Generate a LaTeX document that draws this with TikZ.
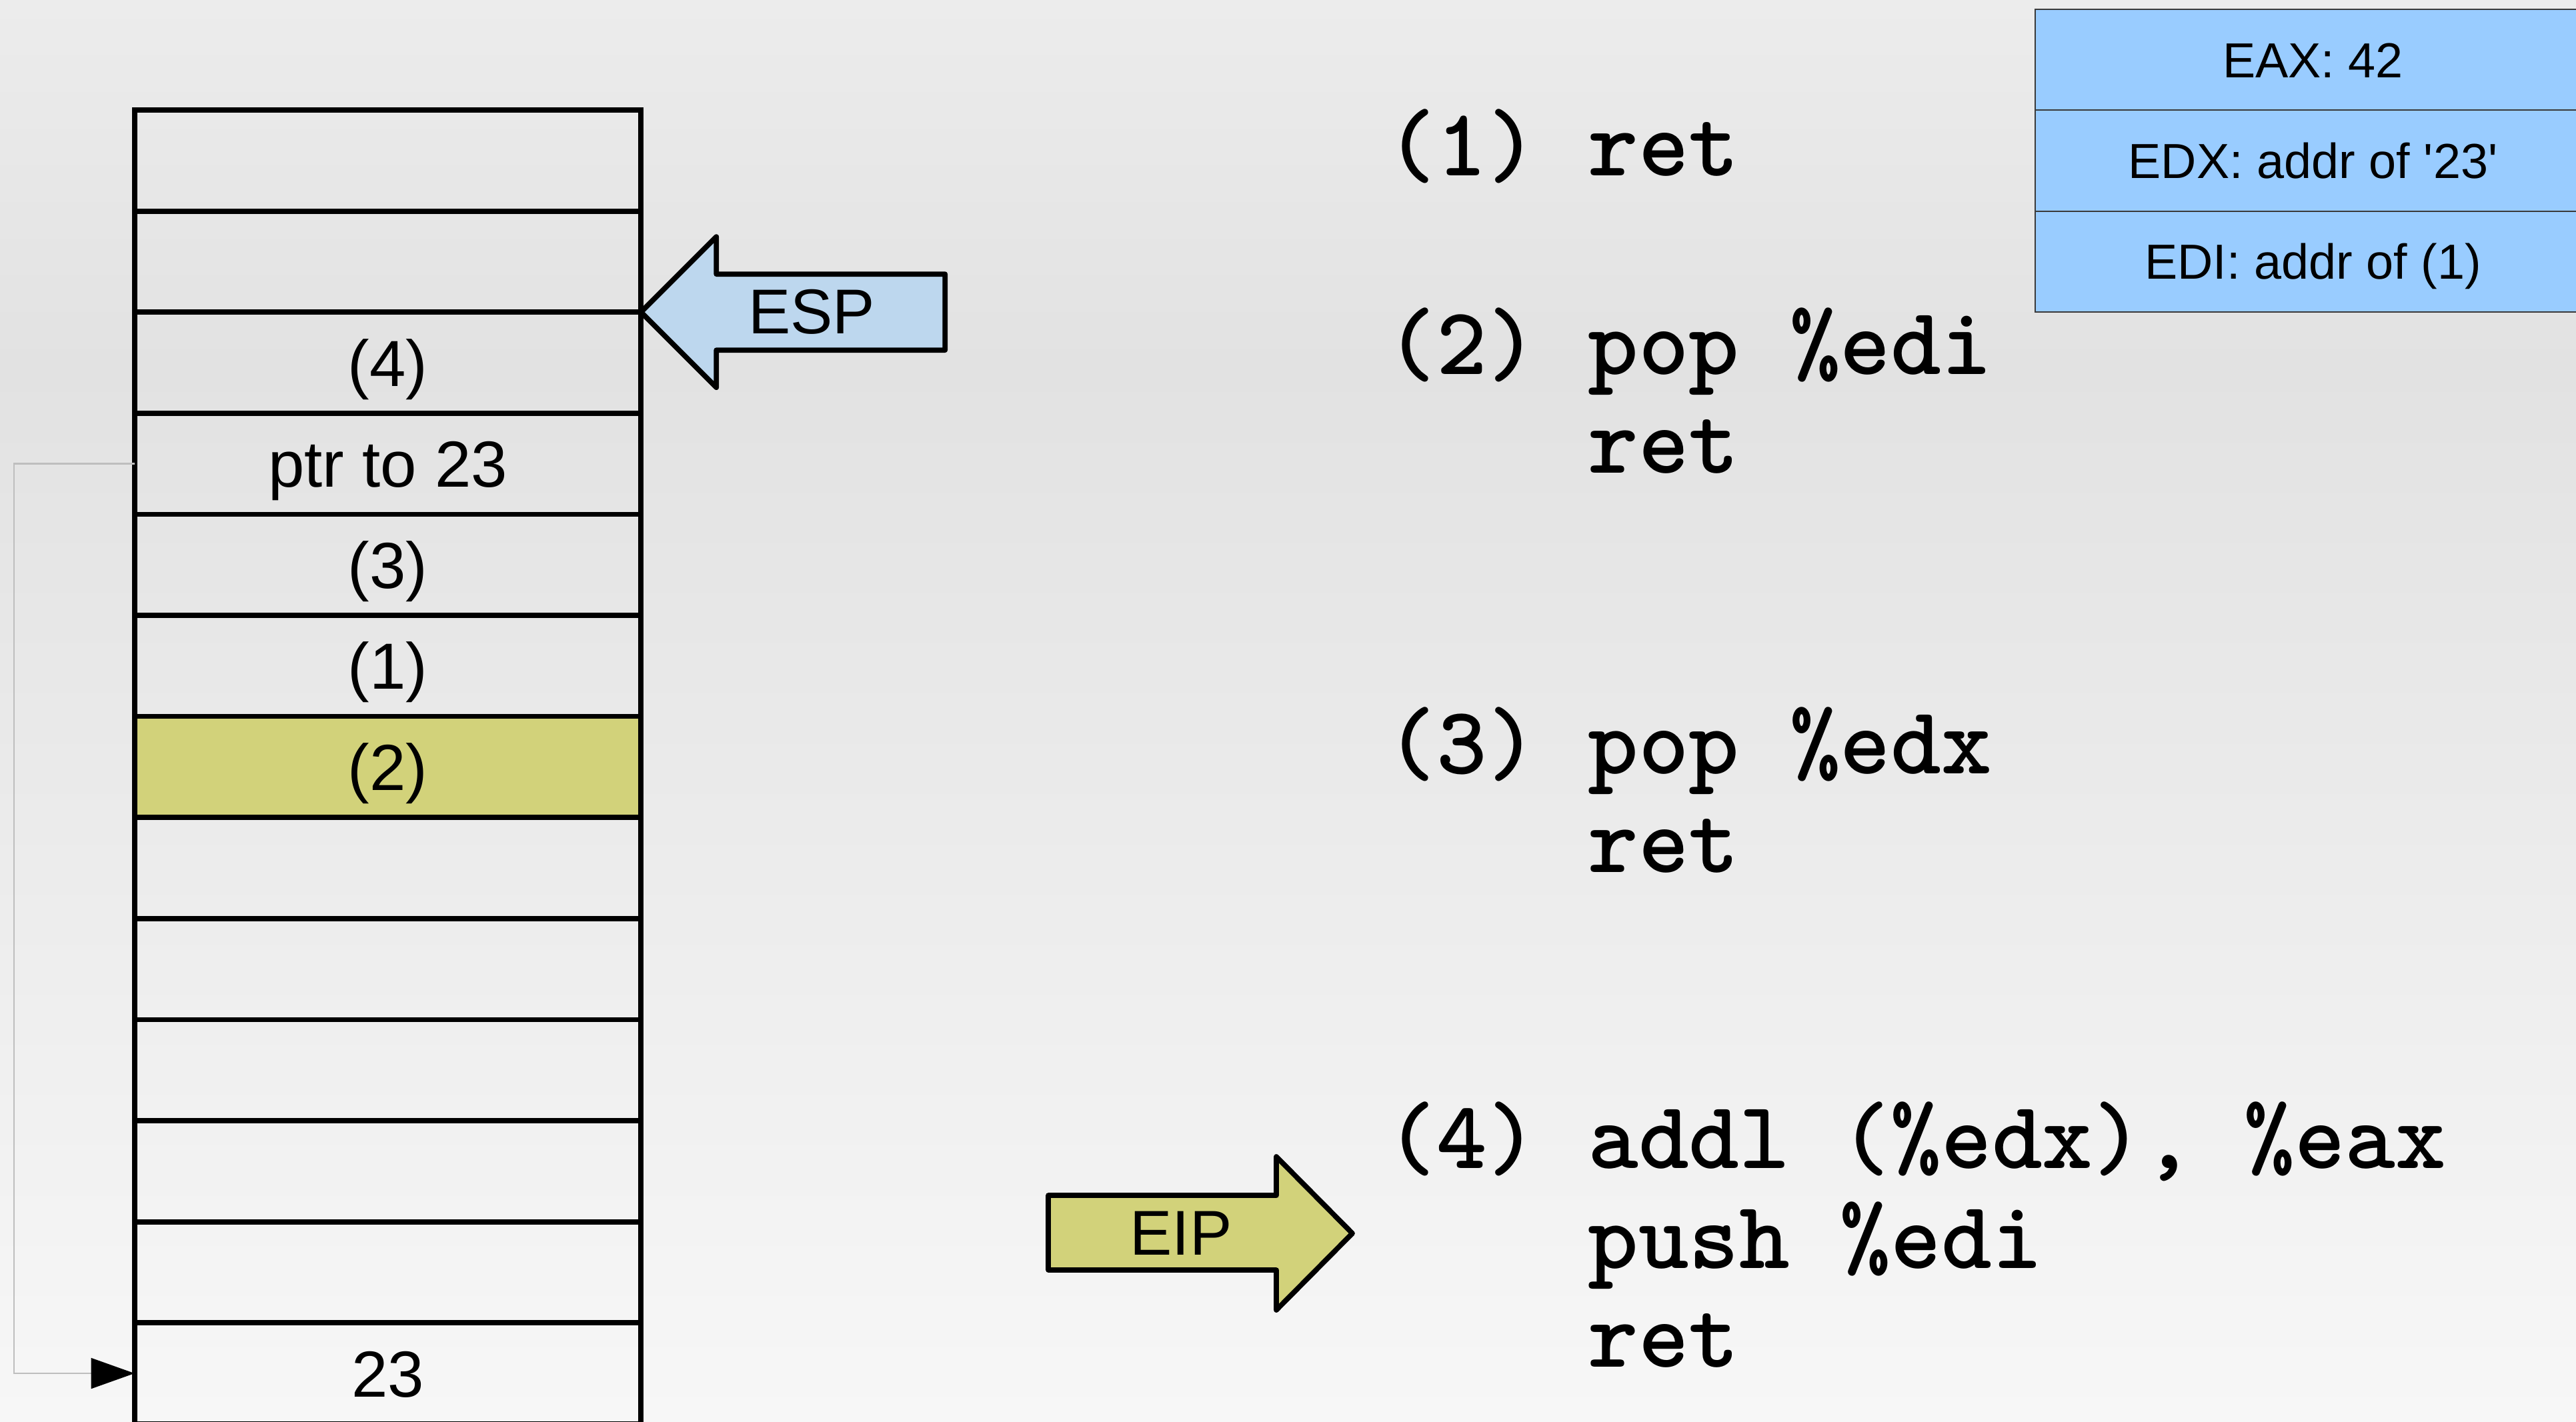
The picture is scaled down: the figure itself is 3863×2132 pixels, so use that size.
\documentclass[tikz,border=0pt]{standalone}
\usepackage{fontspec}
\setmainfont{Liberation Sans}
\usetikzlibrary{arrows.meta}
\definecolor{bgTop}{HTML}{ECECEC}
\definecolor{bgMid}{HTML}{E2E2E2}
\definecolor{bgBot}{HTML}{F7F7F7}
\definecolor{hotFill}{HTML}{D2D27A}
\definecolor{espFill}{HTML}{BDD7EE}
\definecolor{regFill}{HTML}{99CCFF}
\definecolor{regLine}{HTML}{3A3A3A}
\definecolor{ptrGray}{HTML}{BEBEBE}

\begin{document}
\begin{tikzpicture}[
  x=0.01cm, y=-0.01cm,
  cellplain/.style={rectangle, draw=black, line width=2.2pt, minimum width=7.59cm,
    minimum height=1.516cm, inner sep=0pt, outer sep=0pt, text height=20pt, text depth=0pt,
    font=\fontsize{27.8}{33}\selectfont},
  cellhot/.style={cellplain, fill=hotFill},
  regcell/.style={rectangle, draw=regLine, fill=regFill, line width=0.6pt, minimum width=8.33cm,
    minimum height=1.513cm, inner sep=0pt, text height=15pt, text depth=0pt,
    font=\fontsize{21}{25}\selectfont},
  ptrshape/.style={draw=black, line width=2.2pt, line join=round},
  ptrlabel/.style={inner sep=0pt, font=\fontsize{27}{32}\selectfont},
  ptrline/.style={draw=ptrGray, line width=0.7pt, -{Triangle[length=18.5pt, width=13pt, color=black]}},
  codeline/.style={anchor=base west, inner sep=0pt, font=\ttfamily\bfseries\fontsize{41}{48}\selectfont}
]
  %% --- sfondo (unita': pixel del riferimento) ---
  \useasboundingbox (0,0) rectangle (3863,2132);
  \shade[top color=bgTop, bottom color=bgMid] (0,0) rectangle (3863,550);
  \shade[top color=bgMid, bottom color=bgBot] (0,550) rectangle (3863,2132);

  %% --- geometria dello stack ---
  \def\stx{581.5}            % centro x delle celle
  \def\sty{165}              % bordo superiore
  \def\rowh{151.6}           % altezza di una cella

  %% --- celle dello stack, dall'alto ---
  \foreach \lab/\kind [count=\i from 0] in {
    {}/cellplain, {}/cellplain, (4)/cellplain, ptr to 23/cellplain,
    (3)/cellplain, (1)/cellplain, (2)/cellhot, {}/cellplain,
    {}/cellplain, {}/cellplain, {}/cellplain, {}/cellplain, 23/cellplain} {
    \node[\kind] (cell\i) at (\stx,{\sty+(\i+0.5)*\rowh}) {\lab};
  }

  %% --- puntatore a 23 ---
  \draw[ptrline] (cell3.west) -- ++(-181,0) |- (cell12.west);

  %% --- ESP: punta sul bordo fra le celle 1 e 2 ---
  \draw[ptrshape, fill=espFill] (cell2.north east) -- ++(113,-113) -- ++(0,56)
    -- ++(343,0) -- ++(0,114) -- ++(-343,0) -- ++(0,56) -- cycle;
  \node[ptrlabel] (esp) at (1217,468) {ESP};

  %% --- EIP ---
  \draw[ptrshape, fill=hotFill] (1572,1793) -- (1914,1793) -- (1914,1735) -- (2028,1850)
    -- (1914,1965) -- (1914,1905) -- (1572,1905) -- cycle;
  \node[ptrlabel] (eip) at (1771,1850) {EIP};

  %% --- registri ---
  \foreach \lab [count=\i from 0] in {
    EAX: 42,
    EDX: addr of \textquotesingle 23\textquotesingle,
    EDI: addr of (1)} {
    \node[regcell] (reg\i) at (3468.5,{14+(\i+0.5)*151.3}) {\lab};
  }

  %% --- gadget: una riga di codice per nodo ---
  \foreach \yb/\txt [count=\k] in {
    263/{(1) ret},
    561/{(2) pop \%edi},
    709/{\phantom{(2) }ret},
    1160/{(3) pop \%edx},
    1308/{\phantom{(3) }ret},
    1752/{(4) addl (\%edx), \%eax},
    1902/{\phantom{(4) }push \%edi},
    2050/{\phantom{(4) }ret}} {
    \node[codeline] (code\k) at (2078,\yb) {\txt};
  }
\end{tikzpicture}
\end{document}
